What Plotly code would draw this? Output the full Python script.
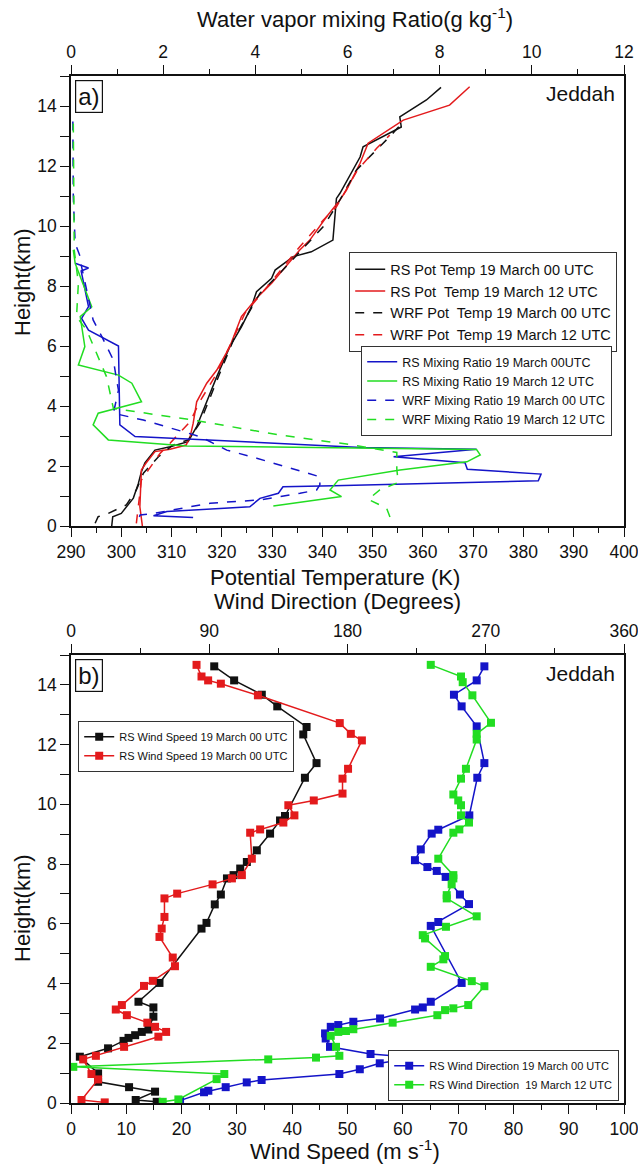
import plotly.graph_objects as go

# ---------------- Panel a data ----------------
rs_pt00_T = [298.1, 298.3, 300.0, 301.0, 302.4, 303.4, 304.0, 304.7, 306.7, 309.7, 313.3, 315.0, 319.0, 321.6,
             323.9, 325.9, 326.9, 329.9, 330.6, 334.2, 337.8, 342.1, 342.8, 343.5, 347.5, 348.1, 355.7, 355.4,
             360.7, 363.6]
rs_pt00_h = [0.0, 0.31, 0.42, 0.64, 0.93, 1.42, 1.81, 2.1, 2.53, 2.64, 2.81, 3.31, 4.98, 5.98, 6.64, 7.31, 7.81,
             8.26, 8.53, 8.98, 9.14, 9.53, 10.92, 11.09, 12.3, 12.64, 13.3, 13.64, 14.2, 14.62]

rs_pt12_T = [304.2, 303.7, 304.0, 304.9, 306.7, 309.7, 312.9, 313.7, 314.3, 315.0, 317.0, 319.0, 321.6, 323.9,
             326.9, 329.9, 335.5, 337.5, 340.8, 343.5, 344.8, 347.5, 349.1, 356.1, 365.3, 369.3]
rs_pt12_h = [0.0, 0.64, 1.87, 2.09, 2.48, 2.56, 2.7, 2.98, 3.42, 4.14, 4.76, 5.2, 5.98, 6.98, 7.59, 8.09, 9.2,
             9.53, 10.3, 10.87, 11.2, 12.09, 12.76, 13.53, 14.03, 14.64]

wrf_pt00_T = [294.8, 295.4, 297.4, 301.0, 303.0, 304.4, 307.4, 310.3, 313.3, 315.6, 319.6, 322.3, 324.9, 327.6,
              330.9, 335.5, 340.2, 343.5, 346.8, 353.4, 356.4]
wrf_pt00_h = [0.09, 0.31, 0.42, 0.7, 1.2, 1.76, 2.31, 2.7, 2.87, 3.42, 5.09, 6.2, 6.98, 7.76, 8.31, 9.14, 9.98,
              10.87, 11.87, 12.98, 13.53]

wrf_pt12_T = [303.0, 303.7, 304.0, 305.4, 307.7, 309.7, 313.7, 315.6, 319.0, 322.3, 324.6, 329.6, 335.5, 340.2,
              342.8, 347.0, 350.8, 353.4]
wrf_pt12_h = [0.09, 0.98, 1.53, 1.87, 2.42, 2.76, 3.48, 4.14, 5.09, 6.26, 7.09, 8.09, 9.31, 10.2, 10.64, 11.87,
              12.59, 13.03]

rs_mr00_q = [0.09, 0.38, 0.22, 0.30, 0.38, 0.23, 0.38, 1.03, 1.06, 1.39, 6.3, 8.8, 7.0, 8.55, 8.6, 10.2, 10.14,
             5.7, 4.6, 4.5, 4.1, 3.88, 2.08, 1.79, 2.65]
rs_mr00_h = [8.76, 8.6, 8.5, 7.9, 7.31, 6.92, 6.53, 6.0, 3.37, 2.98, 2.62, 2.56, 2.31, 2.11, 1.89, 1.73, 1.51,
             1.34, 1.31, 1.09, 0.92, 0.64, 0.48, 0.34, 0.28]

rs_mr12_q = [0.05, 0.09, 0.45, 0.2, 0.3, 0.16, 1.03, 1.32, 1.53, 0.59, 0.48, 0.81, 2.51, 6.3, 8.8, 8.88, 8.59,
             7.14, 5.8, 5.62, 5.87, 4.39]
rs_mr12_h = [9.2, 8.76, 7.31, 6.98, 5.98, 5.37, 5.03, 4.76, 4.14, 3.76, 3.37, 2.87, 2.67, 2.6, 2.55, 2.37, 2.14,
             1.87, 1.53, 1.2, 0.98, 0.67]

wrf_mr00_q = [0.04, 0.05, 0.09, 0.2, 0.23, 0.38, 0.48, 0.67, 0.92, 0.99, 1.03, 0.92, 1.57, 2.8, 3.38, 4.03, 5.4,
              5.4, 5.33, 4.97, 4.1, 3.02, 1.79, 1.5, 1.43]
wrf_mr00_h = [13.48, 10.98, 9.42, 8.98, 8.64, 7.53, 6.87, 6.31, 5.53, 4.87, 4.53, 3.76, 3.53, 2.98, 2.53, 2.26,
              1.64, 1.37, 1.2, 1.09, 0.87, 0.76, 0.42, 0.37, 0.11]

wrf_mr12_q = [0.05, 0.07, 0.16, 0.12, 0.34, 0.59, 0.77, 0.92, 2.65, 4.54, 5.98, 7.07, 7.07, 7.1, 6.7, 6.45,
              6.85, 6.96]
wrf_mr12_h = [13.42, 9.2, 8.09, 6.98, 6.53, 5.64, 4.98, 3.92, 3.53, 3.03, 2.73, 2.45, 1.9, 1.45, 1.2, 0.89,
              0.59, 0.14]

# ---------------- Panel b data ----------------
ws00_v = [25.9, 29.5, 34.5, 37.3, 42.6, 42.0, 44.4, 42.3, 38.7, 37.8, 36.0, 33.6, 31.8, 30.6, 29.4, 28.2, 27.1,
          26.0, 24.5, 23.6, 16.0, 12.2, 14.9, 14.9, 14.0, 12.8, 11.6, 10.4, 9.5, 6.7, 1.6, 4.9, 4.9, 10.5, 15.2,
          11.7, 15.5]
ws00_h = [14.62, 14.15, 13.67, 13.28, 12.59, 12.34, 11.38, 10.89, 9.61, 9.46, 9.02, 8.46, 8.07, 7.85, 7.63, 7.52,
          6.98, 6.65, 6.03, 5.84, 4.02, 3.39, 3.2, 2.89, 2.46, 2.38, 2.27, 2.18, 2.08, 1.83, 1.55, 0.99, 0.71, 0.53,
          0.38, 0.1, 0.04]

ws12_v = [22.7, 23.6, 24.8, 27.1, 33.8, 48.6, 50.6, 52.6, 50.1, 49.1, 49.1, 43.9, 39.3, 40.4, 38.4, 34.2, 32.4,
          32.7, 30.9, 29.1, 25.6, 19.2, 16.9, 16.9, 16.4, 16.0, 18.4, 18.8, 14.8, 13.2, 9.2, 8.1, 10.1, 13.8, 15.2,
          17.2, 15.8, 9.6, 4.5, 2.2, 3.7, 4.9, 1.9, 6.1]
ws12_h = [14.67, 14.28, 14.15, 14.04, 13.65, 12.72, 12.36, 12.14, 11.19, 10.86, 10.36, 10.13, 9.97, 9.63, 9.39,
          9.16, 9.05, 8.18, 7.63, 7.52, 7.32, 7.01, 6.85, 6.23, 5.84, 5.56, 4.87, 4.58, 4.09, 3.92, 3.28, 3.13, 2.94,
          2.69, 2.55, 2.38, 2.22, 1.88, 1.58, 1.46, 0.97, 0.79, 0.1, 0.02]

wd00_d = [269.1, 264.1, 249.3, 254.3, 264.1, 269.1, 264.5, 259.3, 239.1, 234.8, 227.7, 223.9, 232.0, 238.1, 243.9,
          253.2, 259.1, 239.1, 234.2, 254.3, 234.2, 229.0, 224.0, 201.2, 183.8, 174.0, 169.1, 165.4, 165.8, 168.6,
          195.0, 224.0, 201.0, 188.0, 174.7, 124.1, 114.4, 100.7, 89.4, 86.6, 71.0]
wd00_h = [14.62, 14.15, 13.67, 13.28, 12.61, 11.38, 10.89, 9.63, 9.15, 9.02, 8.49, 8.13, 7.9, 7.77, 7.57, 6.98,
          6.66, 6.06, 5.93, 4.02, 3.39, 3.2, 3.13, 2.83, 2.72, 2.61, 2.55, 2.33, 2.16, 1.88, 1.64, 1.52, 1.33, 1.13,
          0.97, 0.77, 0.69, 0.53, 0.41, 0.36, 0.08]

wd12_d = [234.2, 253.9, 255.0, 261.3, 273.4, 264.1, 264.1, 257.1, 253.9, 248.9, 252.1, 253.9, 253.9, 259.1, 252.8,
          248.9, 239.1, 248.9, 248.9, 247.8, 244.6, 244.6, 264.1, 244.1, 229.0, 230.5, 243.5, 242.4, 234.2, 260.9,
          269.1, 258.6, 248.9, 243.5, 238.5, 209.4, 183.8, 179.0, 174.0, 169.1, 172.5, 174.7, 159.5, 128.4, 1.5,
          99.8, 94.8, 69.9, 59.7]
wd12_h = [14.67, 14.28, 14.09, 13.65, 12.73, 12.36, 12.17, 11.19, 10.86, 10.33, 10.13, 9.97, 9.63, 9.39, 9.16,
          9.05, 8.18, 7.63, 7.52, 7.32, 6.96, 6.85, 6.25, 5.9, 5.62, 5.51, 4.92, 4.81, 4.56, 4.08, 3.91, 3.28, 3.17,
          3.11, 2.94, 2.69, 2.47, 2.41, 2.38, 2.25, 1.88, 1.58, 1.52, 1.46, 1.21, 0.97, 0.8, 0.12, 0.04]

# ---------------- styling ----------------
FONT = "Liberation Sans, Arial, sans-serif"
BLACK = "#111111"
RED = "#e31a1c"
BLUE = "#1414c8"
GREEN = "#22dd22"
NB = "\u00a0"

W, H = 638, 1164
ML, MR_, MT, MB = 71, 14, 76, 61
PW = W - ML - MR_
PH = H - MT - MB


def px_x(x):
    return (x - ML) / PW


def px_y(y):
    return 1 - (y - MT) / PH


fig = go.Figure()


def add_line(x, y, name, color, dash, xa, ya, legend):
    fig.add_trace(go.Scatter(x=x, y=y, name=name, mode="lines",
                             line=dict(color=color, width=1.5, dash=dash),
                             xaxis=xa, yaxis=ya, legend=legend))


def add_marker_line(x, y, name, color, xa, ya, legend):
    fig.add_trace(go.Scatter(x=x, y=y, name=name, mode="lines+markers",
                             line=dict(color=color, width=1.5),
                             marker=dict(symbol="square", size=8, color=color),
                             xaxis=xa, yaxis=ya, legend=legend))


add_line(rs_pt00_T, rs_pt00_h, "RS Pot Temp 19 March 00 UTC", BLACK, "solid", "x", "y", "legend")
add_line(rs_pt12_T, rs_pt12_h, "RS Pot" + NB + " Temp 19 March 12 UTC", RED, "solid", "x", "y", "legend")
add_line(wrf_pt00_T, wrf_pt00_h, "WRF Pot" + NB + " Temp 19 March 00 UTC", BLACK, "dash", "x", "y", "legend")
add_line(wrf_pt12_T, wrf_pt12_h, "WRF Pot" + NB + " Temp 19 March 12 UTC", RED, "dash", "x", "y", "legend")

add_line(rs_mr00_q, rs_mr00_h, "RS Mixing Ratio 19 March 00UTC", BLUE, "solid", "x2", "y", "legend2")
add_line(rs_mr12_q, rs_mr12_h, "RS Mixing Ratio 19 March 12 UTC", GREEN, "solid", "x2", "y", "legend2")
add_line(wrf_mr00_q, wrf_mr00_h, "WRF Mixing Ratio 19 March 00 UTC", BLUE, "dash", "x2", "y", "legend2")
add_line(wrf_mr12_q, wrf_mr12_h, "WRF Mixing Ratio 19 March 12 UTC", GREEN, "dash", "x2", "y", "legend2")

add_marker_line(ws00_v, ws00_h, "RS Wind Speed 19 March 00 UTC", BLACK, "x3", "y2", "legend3")
add_marker_line(ws12_v, ws12_h, "RS Wind Speed 19 March 00 UTC", RED, "x3", "y2", "legend3")
add_marker_line(wd00_d, wd00_h, "RS Wind Direction 19 March 00 UTC", BLUE, "x4", "y2", "legend4")
add_marker_line(wd12_d, wd12_h, "RS Wind Direction" + NB + " 19 March 12 UTC", GREEN, "x4", "y2", "legend4")

TICKFONT = dict(family=FONT, size=17.5, color="#111")
common = dict(showline=True, linecolor="#111", linewidth=1.6, ticks="outside", ticklen=9, tickwidth=1.4,
              tickcolor="#111", showgrid=False, zeroline=False, tickfont=TICKFONT, automargin=False,
              ticklabeloverflow="allow")

A_DOM = [px_y(526), 1.0]
B_DOM = [0.0, px_y(655)]

fig.update_layout(
    width=W, height=H,
    margin=dict(l=ML, r=MR_, t=MT, b=MB, autoexpand=False),
    paper_bgcolor="white", plot_bgcolor="white",
    font=dict(family=FONT, color="#111"),
    xaxis=dict(range=[290, 400], dtick=10, anchor="y", side="bottom",
               minor=dict(dtick=5, ticklen=5, ticks="outside", tickcolor="#111"), **common),
    xaxis2=dict(range=[0, 12], dtick=2, anchor="y", side="top", overlaying="x",
                minor=dict(dtick=1, ticklen=5, ticks="outside", tickcolor="#111"), **common),
    yaxis=dict(range=[0, 15], domain=A_DOM, anchor="x", mirror=True, tickvals=[0, 2, 4, 6, 8, 10, 12, 14],
               minor=dict(dtick=1, ticklen=9, ticks="outside", tickcolor="#111"), **common),
    xaxis3=dict(range=[0, 100], dtick=10, anchor="y2", side="bottom",
                minor=dict(dtick=5, ticklen=5, ticks="outside", tickcolor="#111"), **common),
    xaxis4=dict(range=[0, 360], dtick=90, anchor="y2", side="top", overlaying="x3",
                minor=dict(dtick=45, ticklen=5, ticks="outside", tickcolor="#111"), **common),
    yaxis2=dict(range=[0, 15], domain=B_DOM, anchor="x3", mirror=True, tickvals=[0, 2, 4, 6, 8, 10, 12, 14],
                minor=dict(dtick=1, ticklen=9, ticks="outside", tickcolor="#111"), **common),
    legend=dict(x=px_x(617), y=px_y(252), xanchor="right", yanchor="top", bgcolor="white",
                bordercolor="#333", borderwidth=1.2, font=dict(family=FONT, size=14.5, color="#111"),
                tracegroupgap=0, itemwidth=30),
    legend2=dict(x=px_x(612), y=px_y(346), xanchor="right", yanchor="top", bgcolor="white",
                 bordercolor="#333", borderwidth=1.2, font=dict(family=FONT, size=12.5, color="#111"),
                 tracegroupgap=0, itemwidth=30),
    legend3=dict(x=px_x(78), y=px_y(721), xanchor="left", yanchor="top", bgcolor="white",
                 bordercolor="#333", borderwidth=1.2, font=dict(family=FONT, size=11, color="#111"),
                 tracegroupgap=0, itemwidth=30),
    legend4=dict(x=px_x(619), y=px_y(1101), xanchor="right", yanchor="bottom", bgcolor="white",
                 bordercolor="#333", borderwidth=1.2, font=dict(family=FONT, size=11, color="#111"),
                 tracegroupgap=0, itemwidth=30),
    showlegend=True,
)

TITLEFONT = dict(family=FONT, size=22, color="#111")
ann = [
    dict(text="Water vapor mixing Ratio(g kg<sup>-1</sup>)", x=px_x(355), y=px_y(18)),
    dict(text="Potential Temperature (K)", x=px_x(335), y=px_y(577)),
    dict(text="Wind Direction (Degrees)", x=px_x(337), y=px_y(601)),
    dict(text="Wind Speed (m s<sup>-1</sup>)", x=px_x(345), y=px_y(1150)),
    dict(text="Height(km)", x=px_x(22), y=px_y(282), textangle=-90),
    dict(text="Height(km)", x=px_x(22), y=px_y(908), textangle=-90),
]
annotations = []
for a in ann:
    d = dict(xref="paper", yref="paper", showarrow=False, xanchor="center", yanchor="middle", font=TITLEFONT)
    d.update(a)
    annotations.append(d)

for lab, ytop in [("a)", 80), ("b)", 659)]:
    annotations.append(dict(text=lab, xref="paper", yref="paper", x=px_x(75), y=px_y(ytop),
                            xanchor="left", yanchor="top", showarrow=False,
                            font=dict(family=FONT, size=24, color="#111"),
                            bordercolor="#111", borderwidth=1.2, borderpad=2, bgcolor="white"))
for yc in [93, 673]:
    annotations.append(dict(text="Jeddah", xref="paper", yref="paper", x=px_x(617), y=px_y(yc),
                            xanchor="right", yanchor="middle", showarrow=False,
                            font=dict(family=FONT, size=21, color="#111")))

fig.update_layout(annotations=annotations)

fig.write_html("out.html", config={"displayModeBar": False},
               post_script="document.body.style.margin='0';")
